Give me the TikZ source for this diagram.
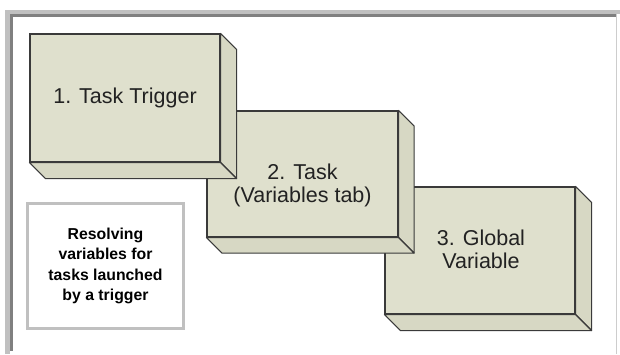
\documentclass[tikz,border=0pt]{standalone}
\usepackage{fontspec}
\setmainfont{Liberation Sans}
\definecolor{facefill}{HTML}{DFE0CD}
\definecolor{sidefill}{HTML}{D7D8C4}
\definecolor{edge}{HTML}{3A3A3A}
\definecolor{txt}{HTML}{222222}
\definecolor{framelight}{HTML}{C0C0C0}
\definecolor{framedark}{HTML}{808080}
\tikzset{
  face/.style={draw=edge, fill=facefill, line width=1.1pt, inner sep=0pt,
    minimum width=190pt, minimum height=127pt},
  side/.style={draw=edge, fill=sidefill, line width=1.1pt, line join=round},
  facetext/.style={align=center, text=txt, inner sep=0pt,
    font=\fontsize{21.5}{23.5}\selectfont},
  notebox/.style={draw=framelight, fill=white, line width=3pt, inner sep=0pt,
    minimum width=156pt, minimum height=125pt, align=center,
    font=\bfseries\fontsize{15.8}{20.5}\selectfont, text=black}
}
% front face plus its right and bottom faces, depth in pt
\newcommand\slab[2]{%
  \draw[side] (#1.north east) -- ++(#2,#2) -- ([shift={(#2,#2)}]#1.south east)
    -- (#1.south east) -- cycle;
  \draw[side] (#1.south west) -- ([shift={(#2,#2)}]#1.south west)
    -- ([shift={(#2,#2)}]#1.south east) -- (#1.south east) -- cycle;
}
\begin{document}
\begin{tikzpicture}[x=1pt,y=-1pt]
\useasboundingbox (0,0) rectangle (620,354);
\fill[white] (0,0) rectangle (620,354);

% window frame
\fill[framelight] (5,10) rectangle (620,14);
\fill[framelight] (5,10) rectangle (10,354);
\fill[framedark] (10,14) rectangle (616,17);
\fill[framedark] (10,14) rectangle (13,351);
\draw[framelight!80, line width=1.5pt] (616.5,14) -- (616.5,354);

% the three slabs, back to front
\node[face] (g) at (480,250.5) {};
\slab{g}{16}
\node[facetext] (gt) at (481,249.5) {3. Global\\Variable};

\node[face, minimum width=191pt, minimum height=126pt] (t) at (302.5,174) {};
\slab{t}{15.5}
\node[facetext] (tt) at ([yshift=-11.5pt]t.center) {2. Task\\(Variables tab)};

\node[face, minimum height=128pt] (tr) at (125,98) {};
\slab{tr}{16}
\node[facetext] (trt) at (tr.center) {1. Task Trigger};

% caption box
\node[notebox] (note) at (105.5,266) {Resolving\\variables for\\tasks launched\\by a trigger};
\end{tikzpicture}
\end{document}
